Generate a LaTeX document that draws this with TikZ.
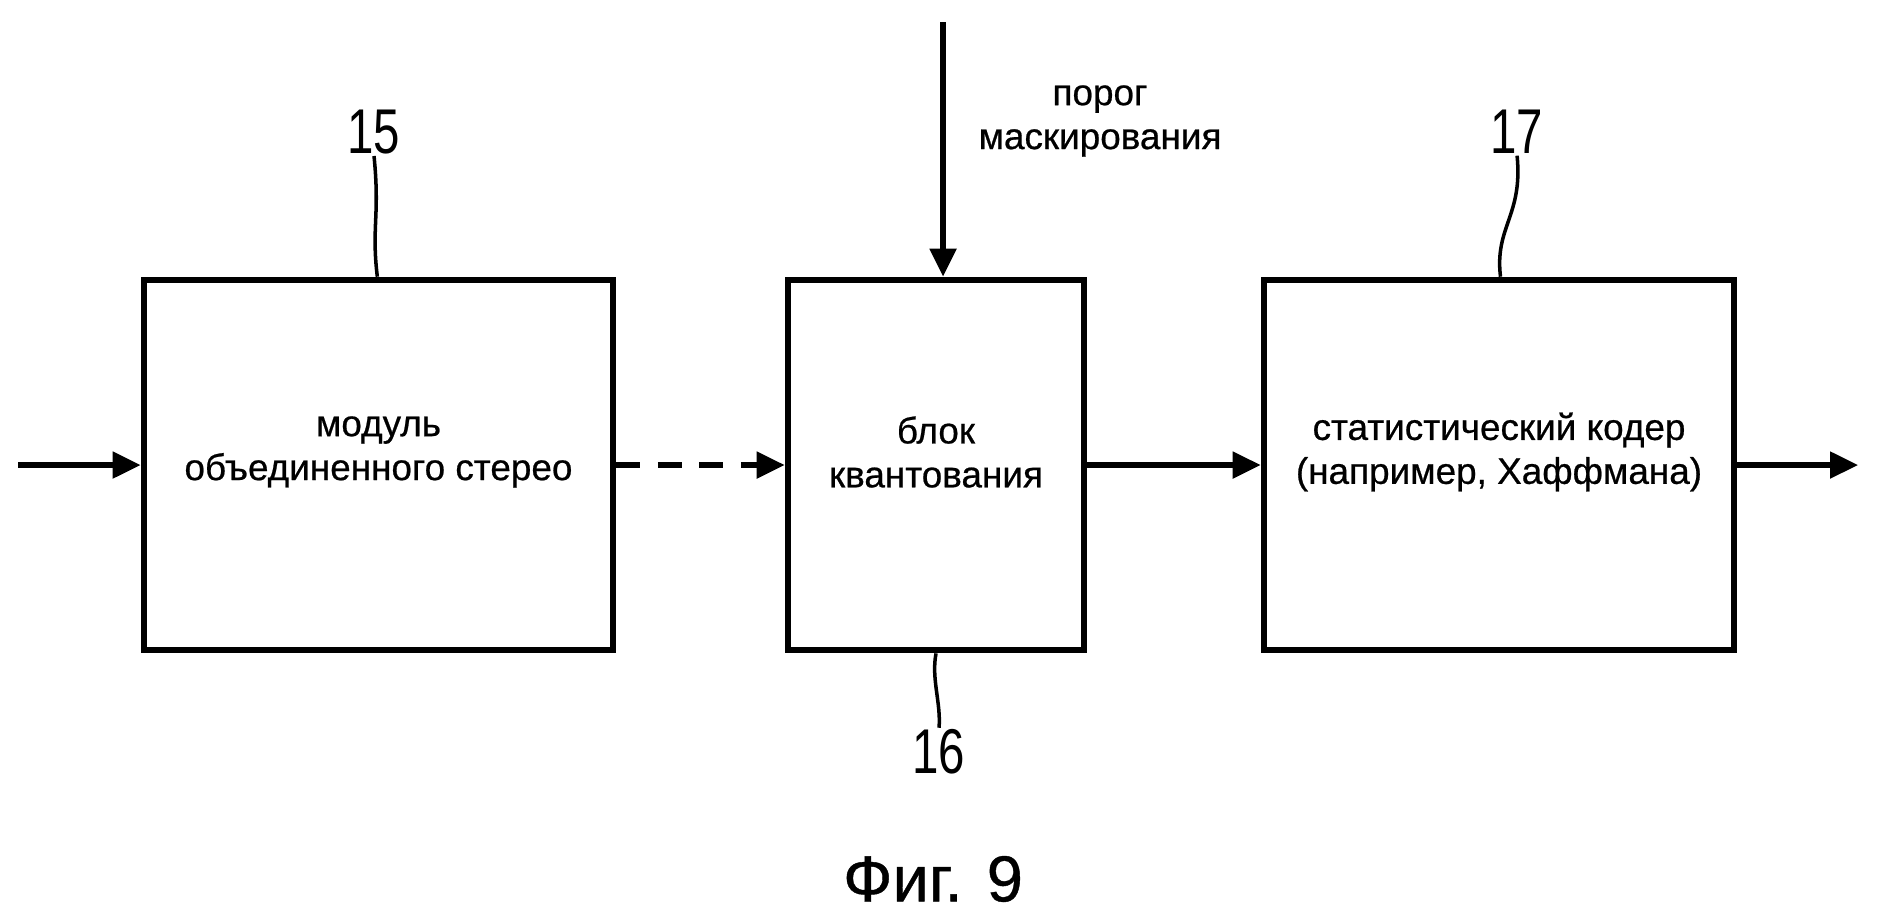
\documentclass[tikz,border=0pt]{standalone}
\usepackage{fontspec}
\setmainfont[FakeBold=0.6]{Liberation Sans}
\newfontfamily\numfont[FakeStretch=0.75]{Liberation Sans}
\usetikzlibrary{arrows.meta}

\begin{document}
\begin{tikzpicture}[scale=0.1]
				\tikzstyle{every node}+=[inner sep=0pt]
				\tikzstyle{blok}=[draw=black,line width=1.9pt,minimum height=3.7cm]
				\tikzstyle{strelka}=[black,line width=1.5pt,-{Triangle[length=8pt,width=7.4pt]}]
				\tikzstyle{tekst}=[align=center,font=\fontsize{10.5}{12.5}\selectfont]
				\tikzstyle{nomer}=[font=\numfont\fontsize{18}{20}\selectfont]
				\tikzstyle{vynoska}=[black,line width=1pt]
				\useasboundingbox (0,0) rectangle (188,-91.5);
				\node [blok,minimum width=4.69cm] (m1) at (37.85,-46.5) {};
				\node [tekst] (t1) at (37.85,-45.2) {модуль\\объединенного стерео};
				\node [blok,minimum width=2.96cm] (m2) at (93.6,-46.5) {};
				\node [tekst] (t2) at (93.6,-45.2) {блок\\квантования};
				\node [blok,minimum width=4.70cm] (m3) at (149.9,-46.5) {};
				\node [tekst] (t3) at (149.9,-45.2) {статистический кодер\\(например, Хаффмана)};
				\coordinate (vhod) at (1.8,-46.5);
				\coordinate (vyhod) at (185.8,-46.5);
				\coordinate (porog) at (94.3,-2.2);
				\node [tekst] (tp) at (110.0,-12.1) {порог\\маскирования};
				\draw [strelka] (vhod) -- (m1.west);
				\draw [strelka,dash pattern=on 6.8pt off 5pt] (m1.east) -- (m2.west);
				\draw [strelka] (m2.east) -- (m3.west);
				\draw [strelka] (m3.east) -- (vyhod);
				\draw [strelka] (porog) -- (porog |- m2.north);
				\node [nomer] (n15) at (37.4,-13.2) {15};
				\draw [vynoska] ([yshift=-0.12cm]n15.south) .. controls +(0.6,-6) and +(-0.6,5) .. ([xshift=-0.12cm]m1.north);
				\node [nomer] (n16) at (93.9,-75.2) {16};
				\draw [vynoska] (m2.south) .. controls +(-0.5,-2.5) and +(0.2,2.5) .. ([yshift=0.12cm]n16.north);
				\node [nomer] (n17) at (151.7,-13.2) {17};
				\draw [vynoska] ([yshift=-0.12cm]n17.south) .. controls +(0.6,-6) and +(-0.6,5) .. ([xshift=0.14cm]m3.north);
				\node [font=\fontsize{18.5}{22}\selectfont] (fig) at (93.3,-87.9) {Фиг. 9};
			\end{tikzpicture}
\end{document}
